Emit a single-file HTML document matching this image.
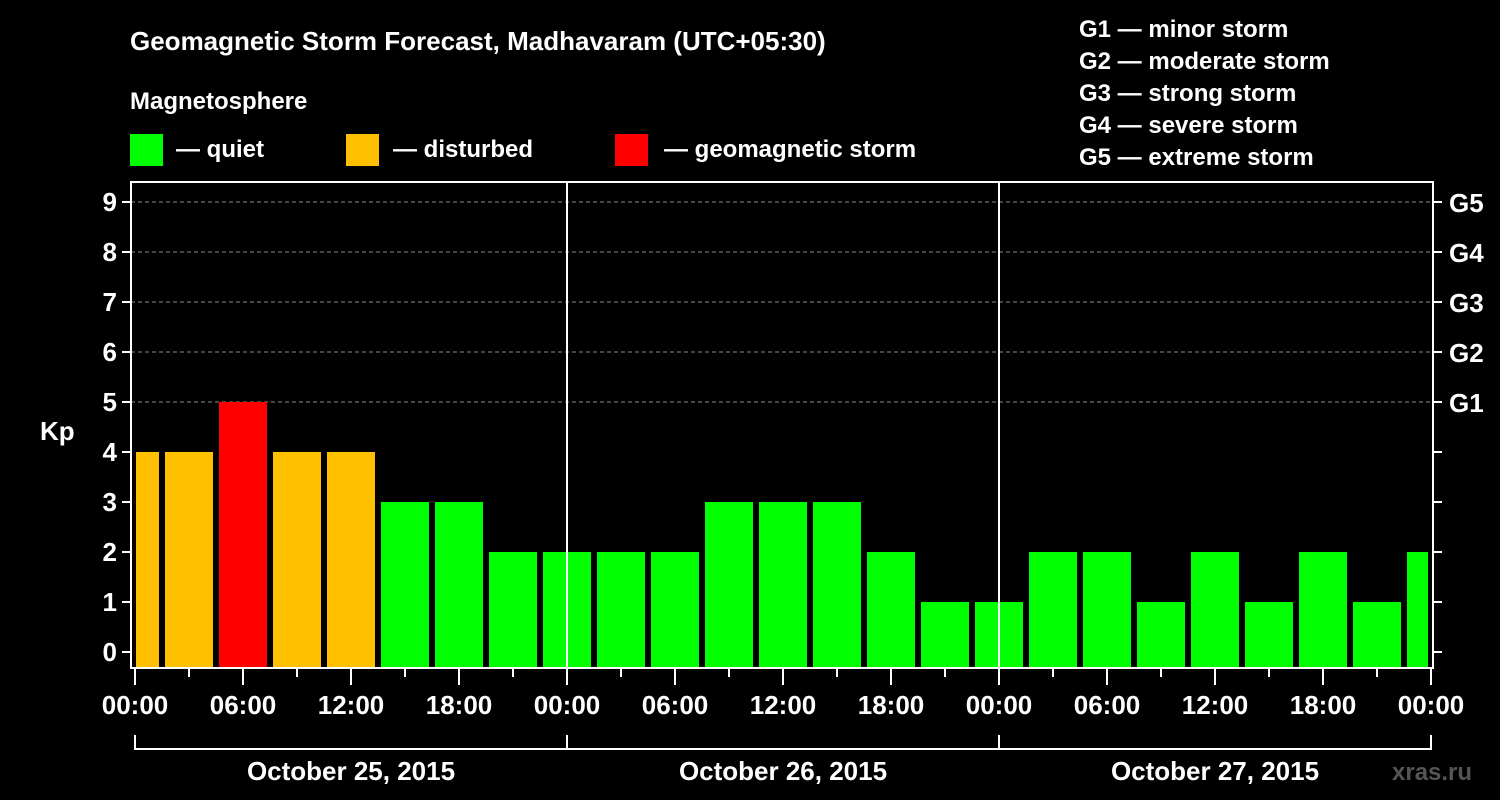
<!DOCTYPE html>
<html><head><meta charset="utf-8"><style>
html,body{margin:0;padding:0;background:#000;width:1500px;height:800px;overflow:hidden}
svg{display:block;font-family:"Liberation Sans",Arial,sans-serif;font-weight:bold}
</style></head><body>
<svg id="chart" width="1500" height="800">
<text x="130" y="50" fill="#fff" font-size="26">Geomagnetic Storm Forecast, Madhavaram (UTC+05:30)</text>
<text x="130" y="109" fill="#fff" font-size="24">Magnetosphere</text>
<g><rect x="130" y="134" width="33" height="32" fill="#00ff00"/><text x="176" y="157" fill="#fff" font-size="24">— quiet</text></g>
<g><rect x="346" y="134" width="33" height="32" fill="#ffc000"/><text x="393" y="157" fill="#fff" font-size="24">— disturbed</text></g>
<g><rect x="615" y="134" width="33" height="32" fill="#ff0000"/><text x="664" y="157" fill="#fff" font-size="24">— geomagnetic storm</text></g>
<g fill="#fff" font-size="24">
<text x="1079" y="37">G1 — minor storm</text><text x="1079" y="69">G2 — moderate storm</text><text x="1079" y="101">G3 — strong storm</text><text x="1079" y="133">G4 — severe storm</text><text x="1079" y="165">G5 — extreme storm</text></g>
<text x="40" y="440" fill="#fff" font-size="26">Kp</text>
<text x="1392" y="780" fill="#555" font-size="24">xras.ru</text>
<g id="grid"></g><g id="bars"></g><g id="axes"></g>
</svg>
<script>
const kpValues=[4,4,5,4,4,3,3,2,2,2,2,3,3,3,2,1,1,2,2,1,2,1,2,1,2];
const yTicks=[0,1,2,3,4,5,6,7,8,9];
const gLabels=["G1","G2","G3","G4","G5"];
const hourLabels=["00:00","06:00","12:00","18:00"];
const dayLabels=["October 25, 2015","October 26, 2015","October 27, 2015"];
const NS="http://www.w3.org/2000/svg";
const L=131,R=1433,T=182,B=668,X0=135,PXH=18;
const y=v=>652-v*50, x=h=>X0+h*PXH;
function mk(p,tag,a){const e=document.createElementNS(NS,tag);for(const k in a)e.setAttribute(k,a[k]);p.appendChild(e);return e;}
const grid=document.getElementById('grid'),bars=document.getElementById('bars'),axes=document.getElementById('axes');
yTicks.forEach(v=>{if(v>=5){const g=mk(grid,'line',{x1:L,x2:R,y1:y(v),y2:y(v),stroke:'#888','stroke-dasharray':'4,3','stroke-width':1});

}
const t=mk(axes,'line',{x1:L-9,x2:L,y1:y(v),y2:y(v),stroke:'#fff','stroke-width':2});


const rt=mk(axes,'line',{x1:R,x2:R+9,y1:y(v),y2:y(v),stroke:'#fff','stroke-width':2});


const lb=mk(axes,'text',{x:L-14,y:y(v)+9,fill:'#fff','font-size':26,'text-anchor':'end'});lb.textContent=v;

});
gLabels.forEach((g,i)=>{const t=mk(axes,'text',{x:1449,y:y(5+i)+10,fill:'#fff','font-size':26});t.textContent=g;

});
kpValues.forEach((v,i)=>{let x1=x(i*3-1.5)+3,x2=x1+48;x1=Math.max(x1,L+5);x2=Math.min(x2,R-5);
const c=v>=5?'#ff0000':(v>=4?'#ffc000':'#00ff00');
const r=mk(bars,'rect',{x:x1,y:y(v),width:x2-x1,height:B-y(v),fill:c});

});
[1,2].forEach(d=>{const l=mk(axes,'line',{x1:x(d*24),x2:x(d*24),y1:T,y2:B,stroke:'#fff','stroke-width':2});

});
const fr=mk(axes,'rect',{x:L,y:T,width:R-L,height:B-T,fill:'none',stroke:'#fff','stroke-width':2});


for(let h=0;h<=72;h+=3){const long=h%6==0;const t=mk(axes,'line',{x1:x(h),x2:x(h),y1:B,y2:B+(long?17:9),stroke:'#fff','stroke-width':2});


if(long){const lb=mk(axes,'text',{x:x(h),y:714,fill:'#fff','font-size':26,'text-anchor':'middle'});lb.textContent=hourLabels[(h/6)%4];

}}
const br=mk(axes,'line',{x1:x(0),x2:x(72),y1:749,y2:749,stroke:'#fff','stroke-width':2});


for(let d=0;d<=3;d++){const t=mk(axes,'line',{x1:x(d*24),x2:x(d*24),y1:735,y2:750,stroke:'#fff','stroke-width':2});

}
dayLabels.forEach((d,i)=>{const t=mk(axes,'text',{x:x(i*24+12),y:780,fill:'#fff','font-size':26,'text-anchor':'middle'});t.textContent=d;

});
</script>
</body></html>
